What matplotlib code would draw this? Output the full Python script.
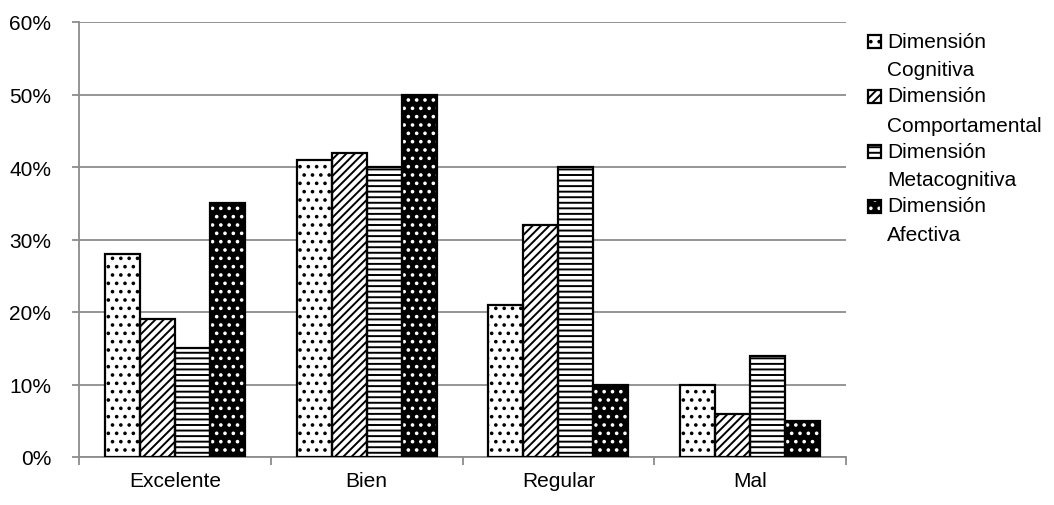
import matplotlib.pyplot as plt
import numpy as np
from matplotlib.patches import Rectangle
from matplotlib.ticker import PercentFormatter, FixedLocator

plt.rcParams['font.family'] = ['Liberation Sans', 'DejaVu Sans']
plt.rcParams['hatch.linewidth'] = 1.4
fsize = 15

categories = ['Excelente', 'Bien', 'Regular', 'Mal']
series = [('Dimensión', 'Cognitiva'), ('Dimensión', 'Comportamental'),
          ('Dimensión', 'Metacognitiva'), ('Dimensión', 'Afectiva')]
cognitiva = [28, 41, 21, 10]
comportamental = [19, 42, 32, 6]
metacognitiva = [15, 40, 40, 14]
afectiva = [35, 50, 10, 5]
values = [cognitiva, comportamental, metacognitiva, afectiva]

# face colour, hatch colour, hatch pattern per series
styles = [('white', 'black', '..'),
          ('white', 'black', '////'),
          ('white', 'black', '---'),
          ('black', 'white', '..')]

W, H = 1054, 506
fig = plt.figure(figsize=(W / 100, H / 100), dpi=100)
ax = fig.add_axes([79 / W, (H - 458) / H, (846 - 79) / W, (458 - 23) / H])

x = np.arange(len(categories))
width = 0.1825
grey = '#8c8c8c'
for i, (vals, (fc, hc, hatch)) in enumerate(zip(values, styles)):
    pos = x + (i - 1.5) * width
    # hatch colour follows the edge colour, so fill first and outline on top
    ax.bar(pos, vals, width, color=fc, edgecolor=hc, hatch=hatch, linewidth=0, zorder=3)
    ax.bar(pos, vals, width, fill=False, edgecolor='black', linewidth=1.6, zorder=4)

ax.set_ylim(0, 60)
ax.set_xlim(-0.5, len(categories) - 0.5)
ax.set_yticks(np.arange(0, 61, 10))
ax.yaxis.set_major_formatter(PercentFormatter(decimals=0))
ax.yaxis.grid(True, color=grey, linewidth=1.3, zorder=0)
ax.set_axisbelow(True)

ax.set_xticks(x)
ax.set_xticklabels(categories)
ax.xaxis.set_minor_locator(FixedLocator(np.arange(-0.5, len(categories), 1)))
ax.tick_params(axis='x', which='major', length=0, pad=10, labelsize=fsize)
ax.tick_params(axis='x', which='minor', length=6, color=grey, width=1.3)
ax.tick_params(axis='y', length=5, color=grey, width=1.3, labelsize=fsize, pad=15)

for side in ['top', 'right']:
    ax.spines[side].set_visible(False)
for side in ['left', 'bottom']:
    ax.spines[side].set_color(grey)
    ax.spines[side].set_linewidth(1.3)

# legend: small hatched square next to a two-line label
for i, ((first, second), (fc, hc, hatch)) in enumerate(zip(series, styles)):
    yc = 42 + 55 * i
    fig.add_artist(Rectangle((868 / W, (H - yc - 6.5) / H), 13 / W, 13 / H,
                             transform=fig.transFigure, facecolor=fc, edgecolor=hc,
                             hatch=hatch, linewidth=0))
    fig.add_artist(Rectangle((868 / W, (H - yc - 6.5) / H), 13 / W, 13 / H,
                             transform=fig.transFigure, fill=False,
                             edgecolor='black', linewidth=1.6))
    fig.text(887 / W, (H - yc) / H, first, fontsize=fsize, va='center', ha='left')
    fig.text(887 / W, (H - yc - 29) / H, second, fontsize=fsize, va='center', ha='left')

fig.savefig('out.png', dpi=100)
